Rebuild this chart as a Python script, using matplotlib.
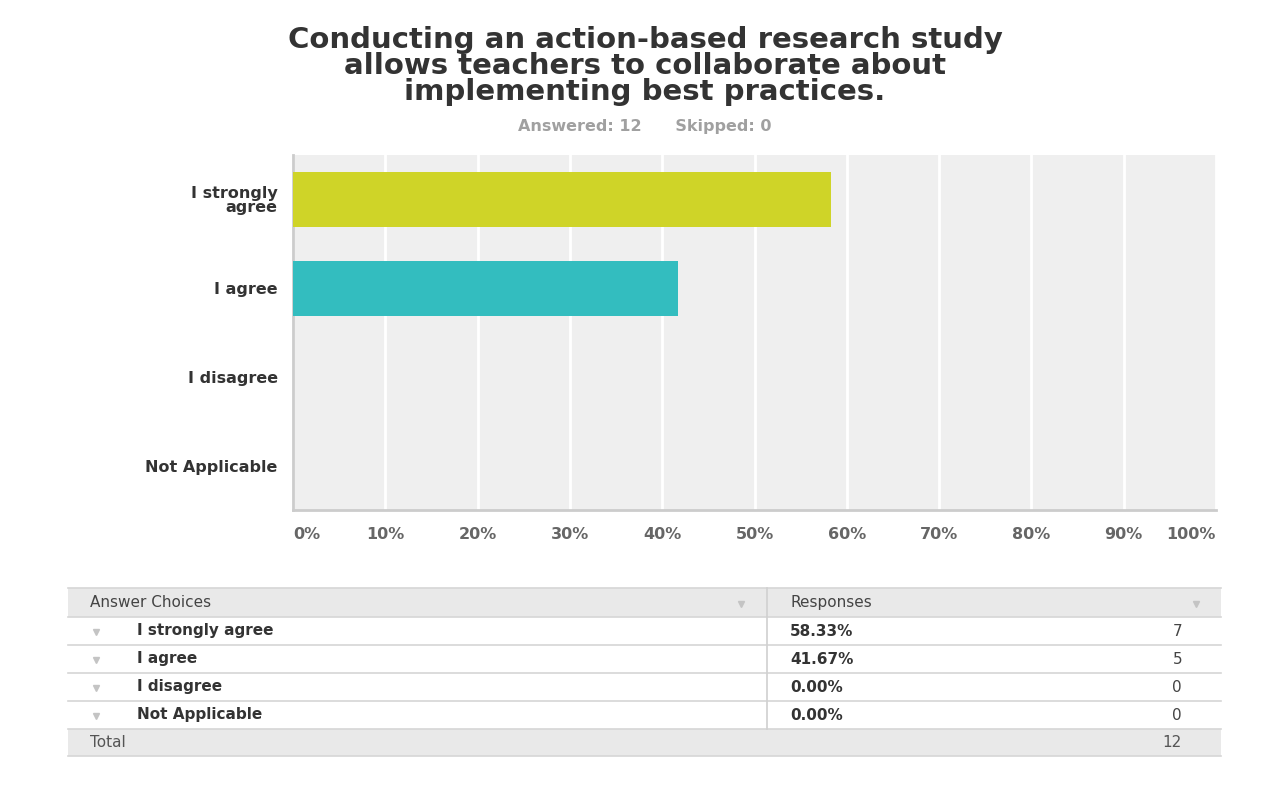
import numpy as np
import matplotlib
matplotlib.use("Agg")
import matplotlib.pyplot as plt
from matplotlib.patches import Rectangle

# survey data
categories = ["I strongly\nagree", "I agree", "I disagree", "Not Applicable"]
table_labels = ["I strongly agree", "I agree", "I disagree", "Not Applicable"]
counts = [7, 5, 0, 0]
bar_colors = ["#cfd428", "#33bdbf", "#cfd428", "#33bdbf"]
xticks = [0, 10, 20, 30, 40, 50, 60, 70, 80, 90, 100]
xtick_labels = ["0%", "10%", "20%", "30%", "40%", "50%", "60%", "70%", "80%", "90%", "100%"]

total = sum(counts)
pct = np.array(counts) / total * 100

plt.rcParams['font.family'] = ['DejaVu Sans']
W, H = 1278, 785
fig = plt.figure(figsize=(W / 100, H / 100), dpi=100)

# title and subtitle
fig.text(645 / W, 1 - 66 / H,
         "Conducting an action-based research study\nallows teachers to collaborate about\nimplementing best practices.",
         ha="center", va="center", fontsize=21, fontweight="bold", color="#333333",
         linespacing=0.9)
fig.text(645 / W, 1 - 126 / H, "Answered: 12      Skipped: 0", ha="center", va="center",
         fontsize=11.5, fontweight="bold", color="#a0a0a0")

# bar chart
ax = fig.add_axes([293 / W, 1 - 510 / H, 923 / W, 355 / H])
ax.set_facecolor("#efefef")
y = np.arange(len(categories))
ax.barh(y, pct, height=0.62, color=bar_colors, zorder=3)
ax.set_ylim(len(categories) - 0.5, -0.5)
ax.set_xlim(0, 100)
ax.set_yticks(y)
ax.set_yticklabels(categories, fontsize=11.5, fontweight="bold", color="#333333",
                   linespacing=0.95)
ax.set_xticks(xticks)
ax.set_xticklabels(xtick_labels, fontsize=11.5, fontweight="bold", color="#666666")
labels = ax.get_xticklabels()
labels[0].set_ha("left")
labels[-1].set_ha("right")
ax.tick_params(axis="both", length=0)
ax.tick_params(axis="x", pad=12)
ax.tick_params(axis="y", pad=11)
ax.xaxis.grid(True, color="white", linewidth=2, zorder=1)
ax.set_axisbelow(True)
for s in ["top", "right"]:
    ax.spines[s].set_visible(False)
for s in ["left", "bottom"]:
    ax.spines[s].set_color("#cccccc")
    ax.spines[s].set_linewidth(2)

# response table drawn in pixel coordinates
tab = fig.add_axes([0, 0, 1, 1])
tab.set_xlim(0, W)
tab.set_ylim(H, 0)
tab.axis("off")

x0, x1, xmid = 68, 1221, 767
header_top, header_bot = 588, 617
row_h = 28
tab.add_patch(Rectangle((x0, header_top), x1 - x0, header_bot - header_top,
                        facecolor="#e9e9e9", edgecolor="none"))
total_top = header_bot + row_h * len(counts)
tab.add_patch(Rectangle((x0, total_top), x1 - x0, 27, facecolor="#e9e9e9", edgecolor="none"))

for yy in [header_top, header_bot] + [header_bot + row_h * (i + 1) for i in range(len(counts))] + [total_top + 27]:
    tab.plot([x0, x1], [yy, yy], color="#d6d6d6", linewidth=1.2)
tab.plot([xmid, xmid], [header_top, total_top], color="#d0d0d0", linewidth=1.2)

hy = (header_top + header_bot) / 2
tab.text(90, hy, "Answer Choices", ha="left", va="center", fontsize=11, color="#444444")
tab.text(790, hy, "Responses", ha="left", va="center", fontsize=11, color="#444444")
tab.plot([741, 1196], [hy + 1, hy + 1], linestyle="none", marker="v", markersize=5,
         color="#c4c4c4")

for i, (lab, c, p) in enumerate(zip(table_labels, counts, pct)):
    ry = header_bot + row_h * i + row_h / 2
    tab.plot([96], [ry + 1], marker="v", markersize=4.5, color="#c4c4c4")
    tab.text(137, ry, lab, ha="left", va="center", fontsize=11, fontweight="bold",
             color="#333333")
    tab.text(790, ry, f"{p:.2f}%", ha="left", va="center", fontsize=11, fontweight="bold",
             color="#333333")
    tab.text(1182, ry, str(c), ha="right", va="center", fontsize=11, color="#444444")

ty = total_top + 13.5
tab.text(90, ty, "Total", ha="left", va="center", fontsize=11, color="#555555")
tab.text(1182, ty, str(total), ha="right", va="center", fontsize=11, color="#555555")

fig.savefig("out.png", dpi=100)
